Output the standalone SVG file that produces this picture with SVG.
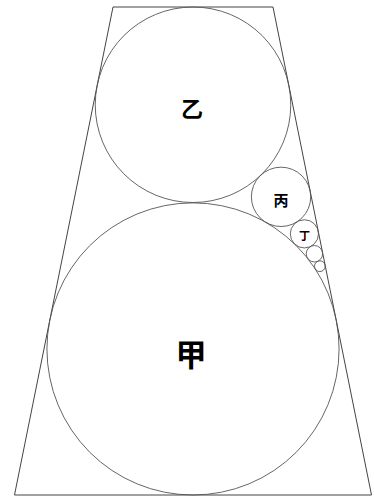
<svg xmlns="http://www.w3.org/2000/svg" width="374" height="496" viewBox="0 0 374 496">
<style>
.frame{fill:none;stroke:#444;stroke-width:1}
.c{fill:none;stroke:#555;stroke-width:0.9}
.t{font-family:"Noto Sans CJK SC","Noto Sans CJK JP",sans-serif;font-weight:700;fill:#000;text-anchor:middle;dominant-baseline:central}
</style>
<rect width="374" height="496" fill="#fff"/>
<g id="trapezoid">
<polygon class="frame" points="113,7 273,7 371.5,495 14.5,495"/>
</g>
<g id="yi">
<circle class="c" cx="193" cy="104.76" r="97.76"/>
<text class="t" x="192" y="107" font-size="22">乙</text>
</g>
<g id="jia">
<circle class="c" cx="193" cy="348.93" r="146.07"/>
<text class="t" x="191" y="352" font-size="31">甲</text>
</g>
<g id="bing">
<circle class="c" cx="281.05" cy="196.84" r="29.67"/>
<text class="t" x="281" y="199" font-size="15">丙</text>
</g>
<g id="ding">
<circle class="c" cx="304.4" cy="233.84" r="14.1"/>
<text class="t" x="304.5" y="235" font-size="11">丁</text>
</g>
<g id="c5">
<circle class="c" cx="314.44" cy="253.77" r="8.21"/>
</g>
<g id="c6">
<circle class="c" cx="319.85" cy="266.21" r="5.36"/>
</g>
<g id="connectors"></g>
</svg>
